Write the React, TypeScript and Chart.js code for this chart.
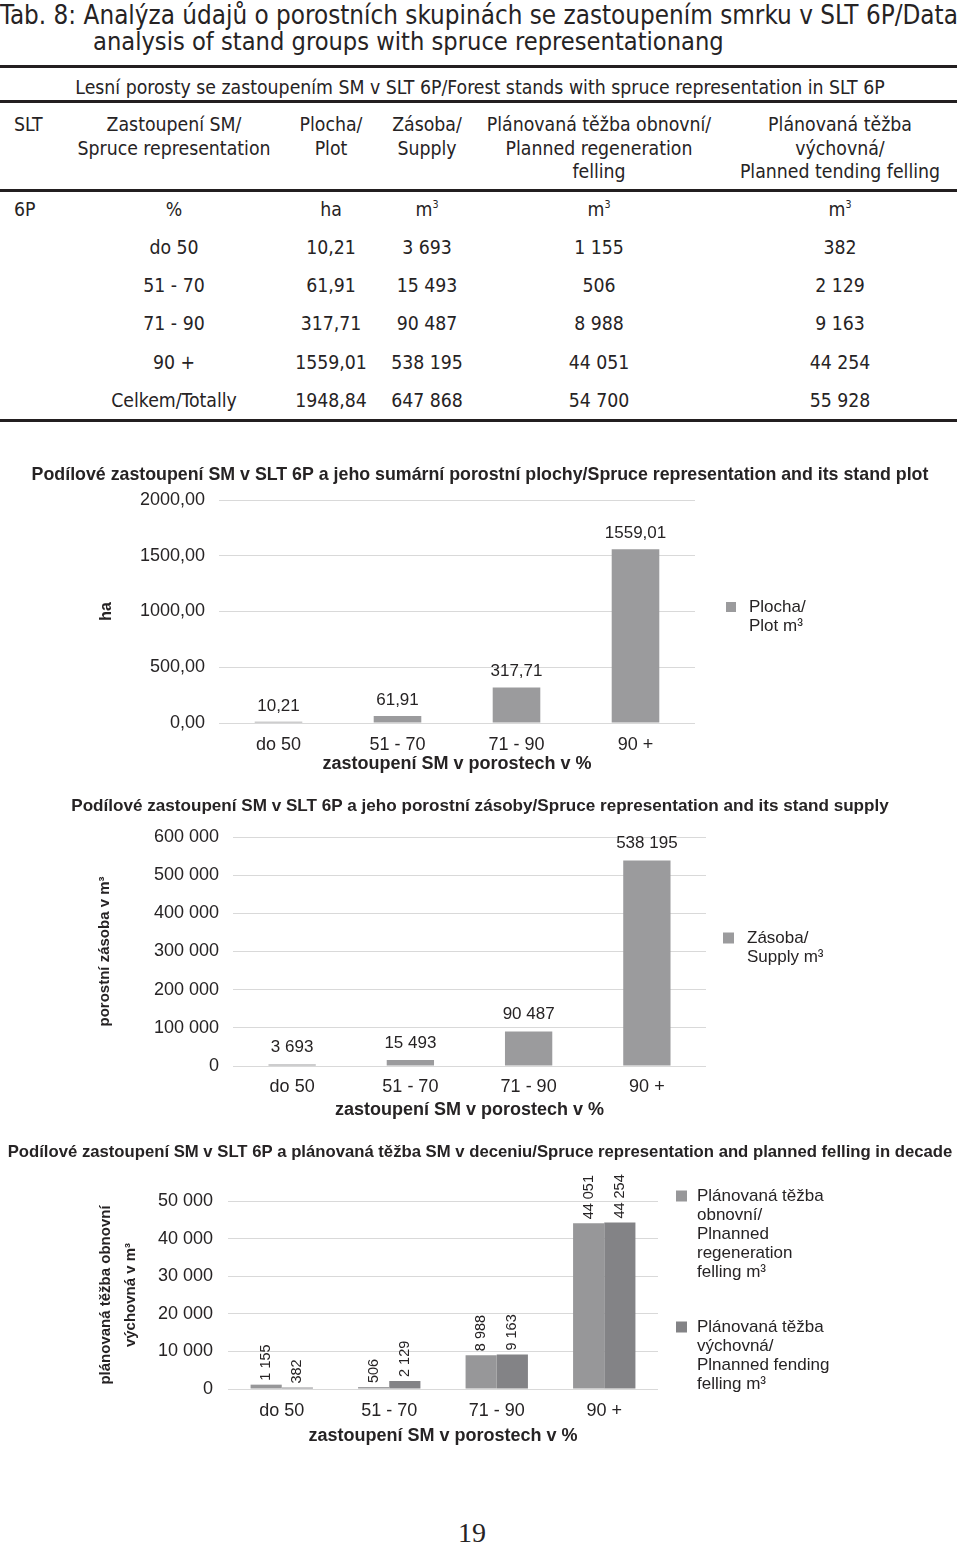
import React, { useEffect, useRef } from "react";
import { Chart, registerables } from "chart.js";

Chart.register(...registerables);

// ---------- data ----------
const categories = ["do 50", "51 - 70", "71 - 90", "90 +"];
const plochaHa = [10.21, 61.91, 317.71, 1559.01];
const zasobaM3 = [3693, 15493, 90487, 538195];
const tezbaObnovni = [1155, 506, 8988, 44051];
const tezbaVychovna = [382, 2129, 9163, 44254];
const totalLabel = "Celkem/Totally";
const totals = [1948.84, 647868, 54700, 55928];

const chart1YTicks = { max: 2000, step: 500 };
const chart2YTicks = { max: 600000, step: 100000 };
const chart3YTicks = { max: 50000, step: 10000 };

const legend1 = ["Plocha/", "Plot m³"];
const legend2 = ["Zásoba/", "Supply m³"];
const legend3a = ["Plánovaná těžba", "obnovní/", "Plnanned", "regeneration", "felling m³"];
const legend3b = ["Plánovaná těžba", "výchovná/", "Plnanned fending", "felling m³"];

const xTitle = "zastoupení SM v porostech v %";

// ---------- styling ----------
const FONT = "'Liberation Sans', Arial, Helvetica, sans-serif";
const TABLE_FONT = "'DejaVu Sans Condensed', 'DejaVu Sans', sans-serif";
const TEXT = "#262324";
const GRID = "#d9d9d9";
const BAR = "#9b9b9d";
const BAR_LIGHT = "#979799";
const BAR_DARK = "#838386";

const fmtDec = (v: number) => v.toFixed(2).replace(".", ",");
const fmtInt = (v: number) =>
  String(Math.round(v)).replace(/\B(?=(\d{3})+(?!\d))/g, " ");

type Series = { legend: string[]; data: number[]; color: string };
type Spec = {
  top: number;
  height: number;
  title: string;
  titleSize: number;
  titleCenter: number;
  areaTop: number;
  areaBottom: number;
  areaLeft: number;
  areaRight: number;
  yTickRight: number;
  yTitle: string[];
  yTitleSize: number;
  yTitleLine: number;
  yTitleX: number;
  yMax: number;
  yStep: number;
  yFmt: (v: number) => string;
  xTickCenter: number;
  xTitleCenter: number;
  series: Series[];
  catPct: number;
  barPct: number;
  valueFmt: (v: number) => string;
  vertical: boolean;
  valueOffset: number;
  valueSize: number;
  legendBoxDx: number;
  legendTextDx: number;
  legendBox: number;
  legendItemY: number[];
  legendLine: number;
  legendSize: number;
};

const spec1: Spec = {
  top: 460,
  height: 320,
  title:
    "Podílové zastoupení SM v SLT 6P a jeho sumární porostní plochy/Spruce representation and its stand plot",
  titleSize: 17.8,
  titleCenter: 475,
  areaTop: 500,
  areaBottom: 723,
  areaLeft: 219,
  areaRight: 695,
  yTickRight: 205,
  yTitle: ["ha"],
  yTitleSize: 16,
  yTitleLine: 19.2,
  yTitleX: 107,
  yMax: chart1YTicks.max,
  yStep: chart1YTicks.step,
  yFmt: fmtDec,
  xTickCenter: 745,
  xTitleCenter: 764,
  series: [{ legend: legend1, data: plochaHa, color: BAR }],
  catPct: 1,
  barPct: 0.4,
  valueFmt: fmtDec,
  vertical: false,
  valueOffset: 16,
  valueSize: 17,
  legendBoxDx: 31,
  legendTextDx: 54,
  legendBox: 10,
  legendItemY: [107],
  legendLine: 19,
  legendSize: 17,
};

const spec2: Spec = {
  top: 788,
  height: 337,
  title:
    "Podílové zastoupení SM v SLT 6P a jeho porostní zásoby/Spruce representation and its stand supply",
  titleSize: 17.1,
  titleCenter: 806,
  areaTop: 837,
  areaBottom: 1066,
  areaLeft: 233,
  areaRight: 706,
  yTickRight: 219,
  yTitle: ["porostní zásoba v m³"],
  yTitleSize: 15,
  yTitleLine: 18,
  yTitleX: 105,
  yMax: chart2YTicks.max,
  yStep: chart2YTicks.step,
  yFmt: fmtInt,
  xTickCenter: 1087,
  xTitleCenter: 1110,
  series: [{ legend: legend2, data: zasobaM3, color: BAR }],
  catPct: 1,
  barPct: 0.4,
  valueFmt: fmtInt,
  vertical: false,
  valueOffset: 17,
  valueSize: 17,
  legendBoxDx: 17,
  legendTextDx: 41,
  legendBox: 11,
  legendItemY: [101],
  legendLine: 19,
  legendSize: 17,
};

const spec3: Spec = {
  top: 1136,
  height: 324,
  title:
    "Podílové zastoupení SM v SLT 6P a plánovaná těžba SM v deceniu/Spruce representation and planned felling in decade",
  titleSize: 16.7,
  titleCenter: 1152,
  areaTop: 1201,
  areaBottom: 1389,
  areaLeft: 228,
  areaRight: 658,
  yTickRight: 213,
  yTitle: ["plánovaná těžba obnovní", "výchovná v m³"],
  yTitleSize: 15,
  yTitleLine: 25,
  yTitleX: 106,
  yMax: chart3YTicks.max,
  yStep: chart3YTicks.step,
  yFmt: fmtInt,
  xTickCenter: 1411,
  xTitleCenter: 1436,
  series: [
    { legend: legend3a, data: tezbaObnovni, color: BAR_LIGHT },
    { legend: legend3b, data: tezbaVychovna, color: BAR_DARK },
  ],
  catPct: 0.58,
  barPct: 1,
  valueFmt: fmtInt,
  vertical: true,
  valueOffset: 4,
  valueSize: 14.5,
  legendBoxDx: 18,
  legendTextDx: 39,
  legendBox: 11,
  legendItemY: [-5, 126],
  legendLine: 19,
  legendSize: 17,
};

function ChartBlock({ spec }: { spec: Spec }) {
  const ref = useRef<HTMLCanvasElement>(null);
  useEffect(() => {
    const s = spec;
    const xFont = 18;
    const xlh = xFont * 1.2;
    const xAxisH = s.top + s.height - s.areaBottom;
    const xTickPad = s.xTickCenter - s.areaBottom - xlh / 2;
    const xTitlePadBottom = s.top + s.height - s.xTitleCenter - xlh / 2;
    const yTitlePadTop = s.yTitleX - s.yTitleLine / 2;

    const valuePlugin = {
      id: "valueLabels",
      afterDatasetsDraw(chart: any) {
        const ctx = chart.ctx;
        ctx.save();
        ctx.fillStyle = TEXT;
        ctx.font = `${s.valueSize}px ${FONT}`;
        chart.data.datasets.forEach((ds: any, di: number) => {
          const meta = chart.getDatasetMeta(di);
          meta.data.forEach((el: any, i: number) => {
            const txt = s.valueFmt(ds.data[i] as number);
            if (s.vertical) {
              ctx.save();
              ctx.translate(el.x, el.y - s.valueOffset);
              ctx.rotate(-Math.PI / 2);
              ctx.textAlign = "left";
              ctx.textBaseline = "middle";
              ctx.fillText(txt, 0, 0);
              ctx.restore();
            } else {
              ctx.textAlign = "center";
              ctx.textBaseline = "middle";
              ctx.fillText(txt, el.x, el.y - s.valueOffset);
            }
          });
        });
        ctx.restore();
      },
    };

    const decorPlugin = {
      id: "decor",
      afterDraw(chart: any) {
        const { ctx, chartArea } = chart;
        ctx.save();
        ctx.fillStyle = TEXT;
        ctx.font = `bold ${s.titleSize}px ${FONT}`;
        ctx.textAlign = "center";
        ctx.textBaseline = "middle";
        ctx.fillText(s.title, chart.width / 2, s.titleCenter - s.top);
        ctx.font = `${s.legendSize}px ${FONT}`;
        ctx.textAlign = "left";
        s.series.forEach((se, i) => {
          const y0 = chartArea.top + s.legendItemY[i];
          ctx.fillStyle = se.color;
          ctx.fillRect(
            chartArea.right + s.legendBoxDx,
            y0 - s.legendBox / 2,
            s.legendBox,
            s.legendBox
          );
          ctx.fillStyle = TEXT;
          se.legend.forEach((line, j) =>
            ctx.fillText(line, chartArea.right + s.legendTextDx, y0 + j * s.legendLine)
          );
        });
        ctx.restore();
      },
    };

    const chart = new Chart(ref.current as HTMLCanvasElement, {
      type: "bar",
      data: {
        labels: categories,
        datasets: s.series.map((se) => ({
          label: se.legend.join(" "),
          data: se.data,
          backgroundColor: se.color,
          borderWidth: 0,
          categoryPercentage: s.catPct,
          barPercentage: s.barPct,
        })),
      },
      options: {
        animation: false,
        responsive: false,
        maintainAspectRatio: false,
        layout: {
          padding: { top: s.areaTop - s.top, left: 0, right: 960 - s.areaRight, bottom: 0 },
        },
        plugins: {
          legend: { display: false },
          tooltip: { enabled: false },
          title: { display: false },
        },
        scales: {
          x: {
            grid: { display: false, drawTicks: false },
            border: { display: false },
            ticks: {
              color: TEXT,
              font: { family: FONT, size: xFont, lineHeight: 1.2 },
              padding: xTickPad,
              maxRotation: 0,
            },
            title: {
              display: true,
              text: xTitle,
              color: TEXT,
              font: { family: FONT, size: xFont, weight: "bold", lineHeight: 1.2 },
              padding: { top: 0, bottom: xTitlePadBottom },
            },
            afterFit: (sc: any) => {
              sc.height = xAxisH;
            },
          },
          y: {
            min: 0,
            max: s.yMax,
            grid: { color: GRID, drawTicks: false, lineWidth: 1 },
            border: { display: false },
            ticks: {
              stepSize: s.yStep,
              callback: (v: any) => s.yFmt(Number(v)),
              padding: s.areaLeft - s.yTickRight,
              color: TEXT,
              font: { family: FONT, size: 18 },
            },
            title: {
              display: true,
              text: s.yTitle.length === 1 ? s.yTitle[0] : s.yTitle,
              color: TEXT,
              font: {
                family: FONT,
                size: s.yTitleSize,
                weight: "bold",
                lineHeight: s.yTitleLine / s.yTitleSize,
              },
              padding: { top: yTitlePadTop, bottom: 0 },
            },
            afterFit: (sc: any) => {
              sc.width = s.areaLeft;
            },
          },
        },
      } as any,
      plugins: [valuePlugin, decorPlugin],
    });
    return () => chart.destroy();
  }, [spec]);
  return (
    <canvas
      ref={ref}
      width={960}
      height={spec.height}
      style={{
        position: "absolute",
        left: 0,
        top: spec.top,
        width: 960,
        height: spec.height,
      }}
    />
  );
}

function T({
  x,
  y,
  a = "c",
  s = 19.3,
  children,
}: {
  x: number;
  y: number;
  a?: "c" | "l" | "r";
  s?: number;
  children: React.ReactNode;
}) {
  const tx = a === "c" ? "-50%" : a === "r" ? "-100%" : "0";
  return (
    <div
      style={{
        position: "absolute",
        left: x,
        top: y,
        transform: `translate(${tx}, -50%)`,
        fontSize: s,
        lineHeight: 1.15,
        whiteSpace: "nowrap",
        fontFamily: TABLE_FONT,
        color: TEXT,
      }}
    >
      {children}
    </div>
  );
}

const M3 = () => (
  <span>
    m<sup style={{ fontSize: "0.55em", verticalAlign: "0.7em" }}>3</sup>
  </span>
);

const Rule = ({ y }: { y: number }) => (
  <div
    style={{
      position: "absolute",
      left: 0,
      top: y,
      width: 957,
      height: 3,
      background: "#231f20",
    }}
  />
);

const colX = [174, 331, 427, 599, 840];
const rowY = [248, 286, 324, 363, 401];

export default function App() {
  useEffect(() => {
    document.body.style.margin = "0";
  }, []);
  const rows = categories.map((c, i) => [
    c,
    fmtDec(plochaHa[i]),
    fmtInt(zasobaM3[i]),
    fmtInt(tezbaObnovni[i]),
    fmtInt(tezbaVychovna[i]),
  ]);
  rows.push([
    totalLabel,
    fmtDec(totals[0]),
    fmtInt(totals[1]),
    fmtInt(totals[2]),
    fmtInt(totals[3]),
  ]);
  return (
    <div
      style={{
        position: "absolute",
        left: 0,
        top: 0,
        width: 960,
        height: 1546,
        background: "#fff",
        overflow: "hidden",
      }}
    >
      <T x={0} y={16} a="l" s={25.8}>
        Tab. 8: Analýza údajů o porostních skupinách se zastoupením smrku v SLT 6P/Data
      </T>
      <T x={93} y={42} a="l" s={25.2}>
        analysis of stand groups with spruce representationang
      </T>
      <Rule y={65} />
      <T x={480} y={88}>
        Lesní porosty se zastoupením SM v SLT 6P/Forest stands with spruce representation in SLT 6P
      </T>
      <Rule y={100} />
      <T x={14} y={125} a="l">SLT</T>
      <T x={colX[0]} y={125}>Zastoupení SM/</T>
      <T x={colX[0]} y={149}>Spruce representation</T>
      <T x={colX[1]} y={125}>Plocha/</T>
      <T x={colX[1]} y={149}>Plot</T>
      <T x={colX[2]} y={125}>Zásoba/</T>
      <T x={colX[2]} y={149}>Supply</T>
      <T x={colX[3]} y={125}>Plánovaná těžba obnovní/</T>
      <T x={colX[3]} y={149}>Planned regeneration</T>
      <T x={colX[3]} y={172}>felling</T>
      <T x={colX[4]} y={125}>Plánovaná těžba</T>
      <T x={colX[4]} y={149}>výchovná/</T>
      <T x={colX[4]} y={172}>Planned tending felling</T>
      <Rule y={189} />
      <T x={14} y={210} a="l">6P</T>
      <T x={colX[0]} y={210}>%</T>
      <T x={colX[1]} y={210}>ha</T>
      <T x={colX[2]} y={210}><M3 /></T>
      <T x={colX[3]} y={210}><M3 /></T>
      <T x={colX[4]} y={210}><M3 /></T>
      {rows.map((r, i) =>
        r.map((cell, j) => (
          <T key={`${i}-${j}`} x={colX[j]} y={rowY[i]}>
            {cell}
          </T>
        ))
      )}
      <Rule y={419} />
      <ChartBlock spec={spec1} />
      <ChartBlock spec={spec2} />
      <ChartBlock spec={spec3} />
      <div
        style={{
          position: "absolute",
          left: 472,
          top: 1533,
          transform: "translate(-50%, -50%)",
          fontFamily: "'Liberation Serif', 'DejaVu Serif', serif",
          fontSize: 28,
          color: TEXT,
          lineHeight: 1,
        }}
      >
        19
      </div>
    </div>
  );
}
